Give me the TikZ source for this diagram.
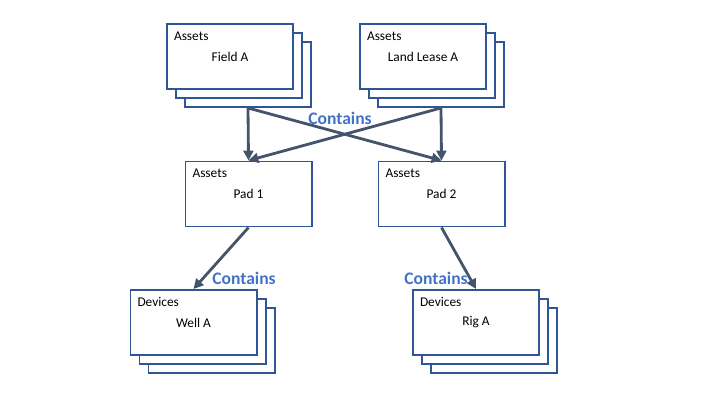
\documentclass[tikz,border=0pt]{standalone}
\usepackage{fontspec}
\setmainfont{Carlito}
\usepackage{xcolor}
\usetikzlibrary{positioning,arrows.meta}

\definecolor{boxblue}{HTML}{2F5597}
\definecolor{linkgray}{HTML}{44546A}
\definecolor{tagblue}{HTML}{4472C4}

\tikzset{
  card/.style={draw=boxblue, line width=1.4pt, fill=white,
    minimum width=3.15cm, minimum height=1.625cm, inner sep=0pt},
  kind/.style={font=\fontsize{9.5}{11}\selectfont, inner sep=0pt},
  title/.style={font=\fontsize{9.5}{11}\selectfont, inner sep=0pt},
  contains/.style={font=\bfseries\fontsize{12.5}{14}\selectfont, text=tagblue, inner sep=0pt},
  link/.style={draw=linkgray, line width=2pt, -{Triangle[length=7pt,width=7pt]}}
}

\begin{document}
\begin{tikzpicture}[x=0.025cm,y=-0.025cm]
   \useasboundingbox (0,0) rectangle (720,405);

   % stacked boxes (back to front)
   \node[card] (fa3) at (248,74.5) {};
   \node[card] (fa2) at (239,65.5) {};
   \node[card] (fa)  at (230,56.5) {};
   \node[card] (ll3) at (441,74.5) {};
   \node[card] (ll2) at (432,65.5) {};
   \node[card] (ll)  at (423,56.5) {};
   \node[card] (wa3) at (211.5,340.5) {};
   \node[card] (wa2) at (202.5,331.5) {};
   \node[card] (wa)  at (193.5,322.5) {};
   \node[card] (ra3) at (494,340.5) {};
   \node[card] (ra2) at (485,331.5) {};
   \node[card] (ra)  at (476,322.5) {};

   % single boxes
   \node[card] (p1) at (248.5,194) {};
   \node[card] (p2) at (441.5,194) {};

   % texts
   \node[kind, anchor=north west] (fak) at ([xshift=5.5pt,yshift=-6pt]fa.north west) {Assets};
   \node[title] (fat) at (fa.center) {Field A};
   \node[kind, anchor=north west] (llk) at ([xshift=5.5pt,yshift=-6pt]ll.north west) {Assets};
   \node[title] (llt) at (ll.center) {Land Lease A};
   \node[kind, anchor=north west] (p1k) at ([xshift=5.5pt,yshift=-6pt]p1.north west) {Assets};
   \node[title] (p1t) at (p1.center) {Pad 1};
   \node[kind, anchor=north west] (p2k) at ([xshift=5.5pt,yshift=-6pt]p2.north west) {Assets};
   \node[title] (p2t) at (p2.center) {Pad 2};
   \node[kind, anchor=north west] (wak) at ([xshift=5.5pt,yshift=-6pt]wa.north west) {Devices};
   \node[title] (wat) at (wa.center) {Well A};
   \node[kind, anchor=north west] (rak) at ([xshift=5.5pt,yshift=-6pt]ra.north west) {Devices};
   \node[title] (rat) at (ra.center) {Rig A};

   % links
   \path
   (fa3.south) edge[link] (p1.north)
   (fa3.south) edge[link] (p2.north)
   (ll3.south) edge[link] (p2.north)
   (ll3.south) edge[link] (p1.north)
   (p1.south) edge[link] (wa.north)
   (p2.south) edge[link] (ra.north);

   \node[contains] (c1) at (340,118) {Contains};
   \node[contains] (c2) at (244,278) {Contains};
   \node[contains] (c3) at (436,278) {Contains};
\end{tikzpicture}
\end{document}
